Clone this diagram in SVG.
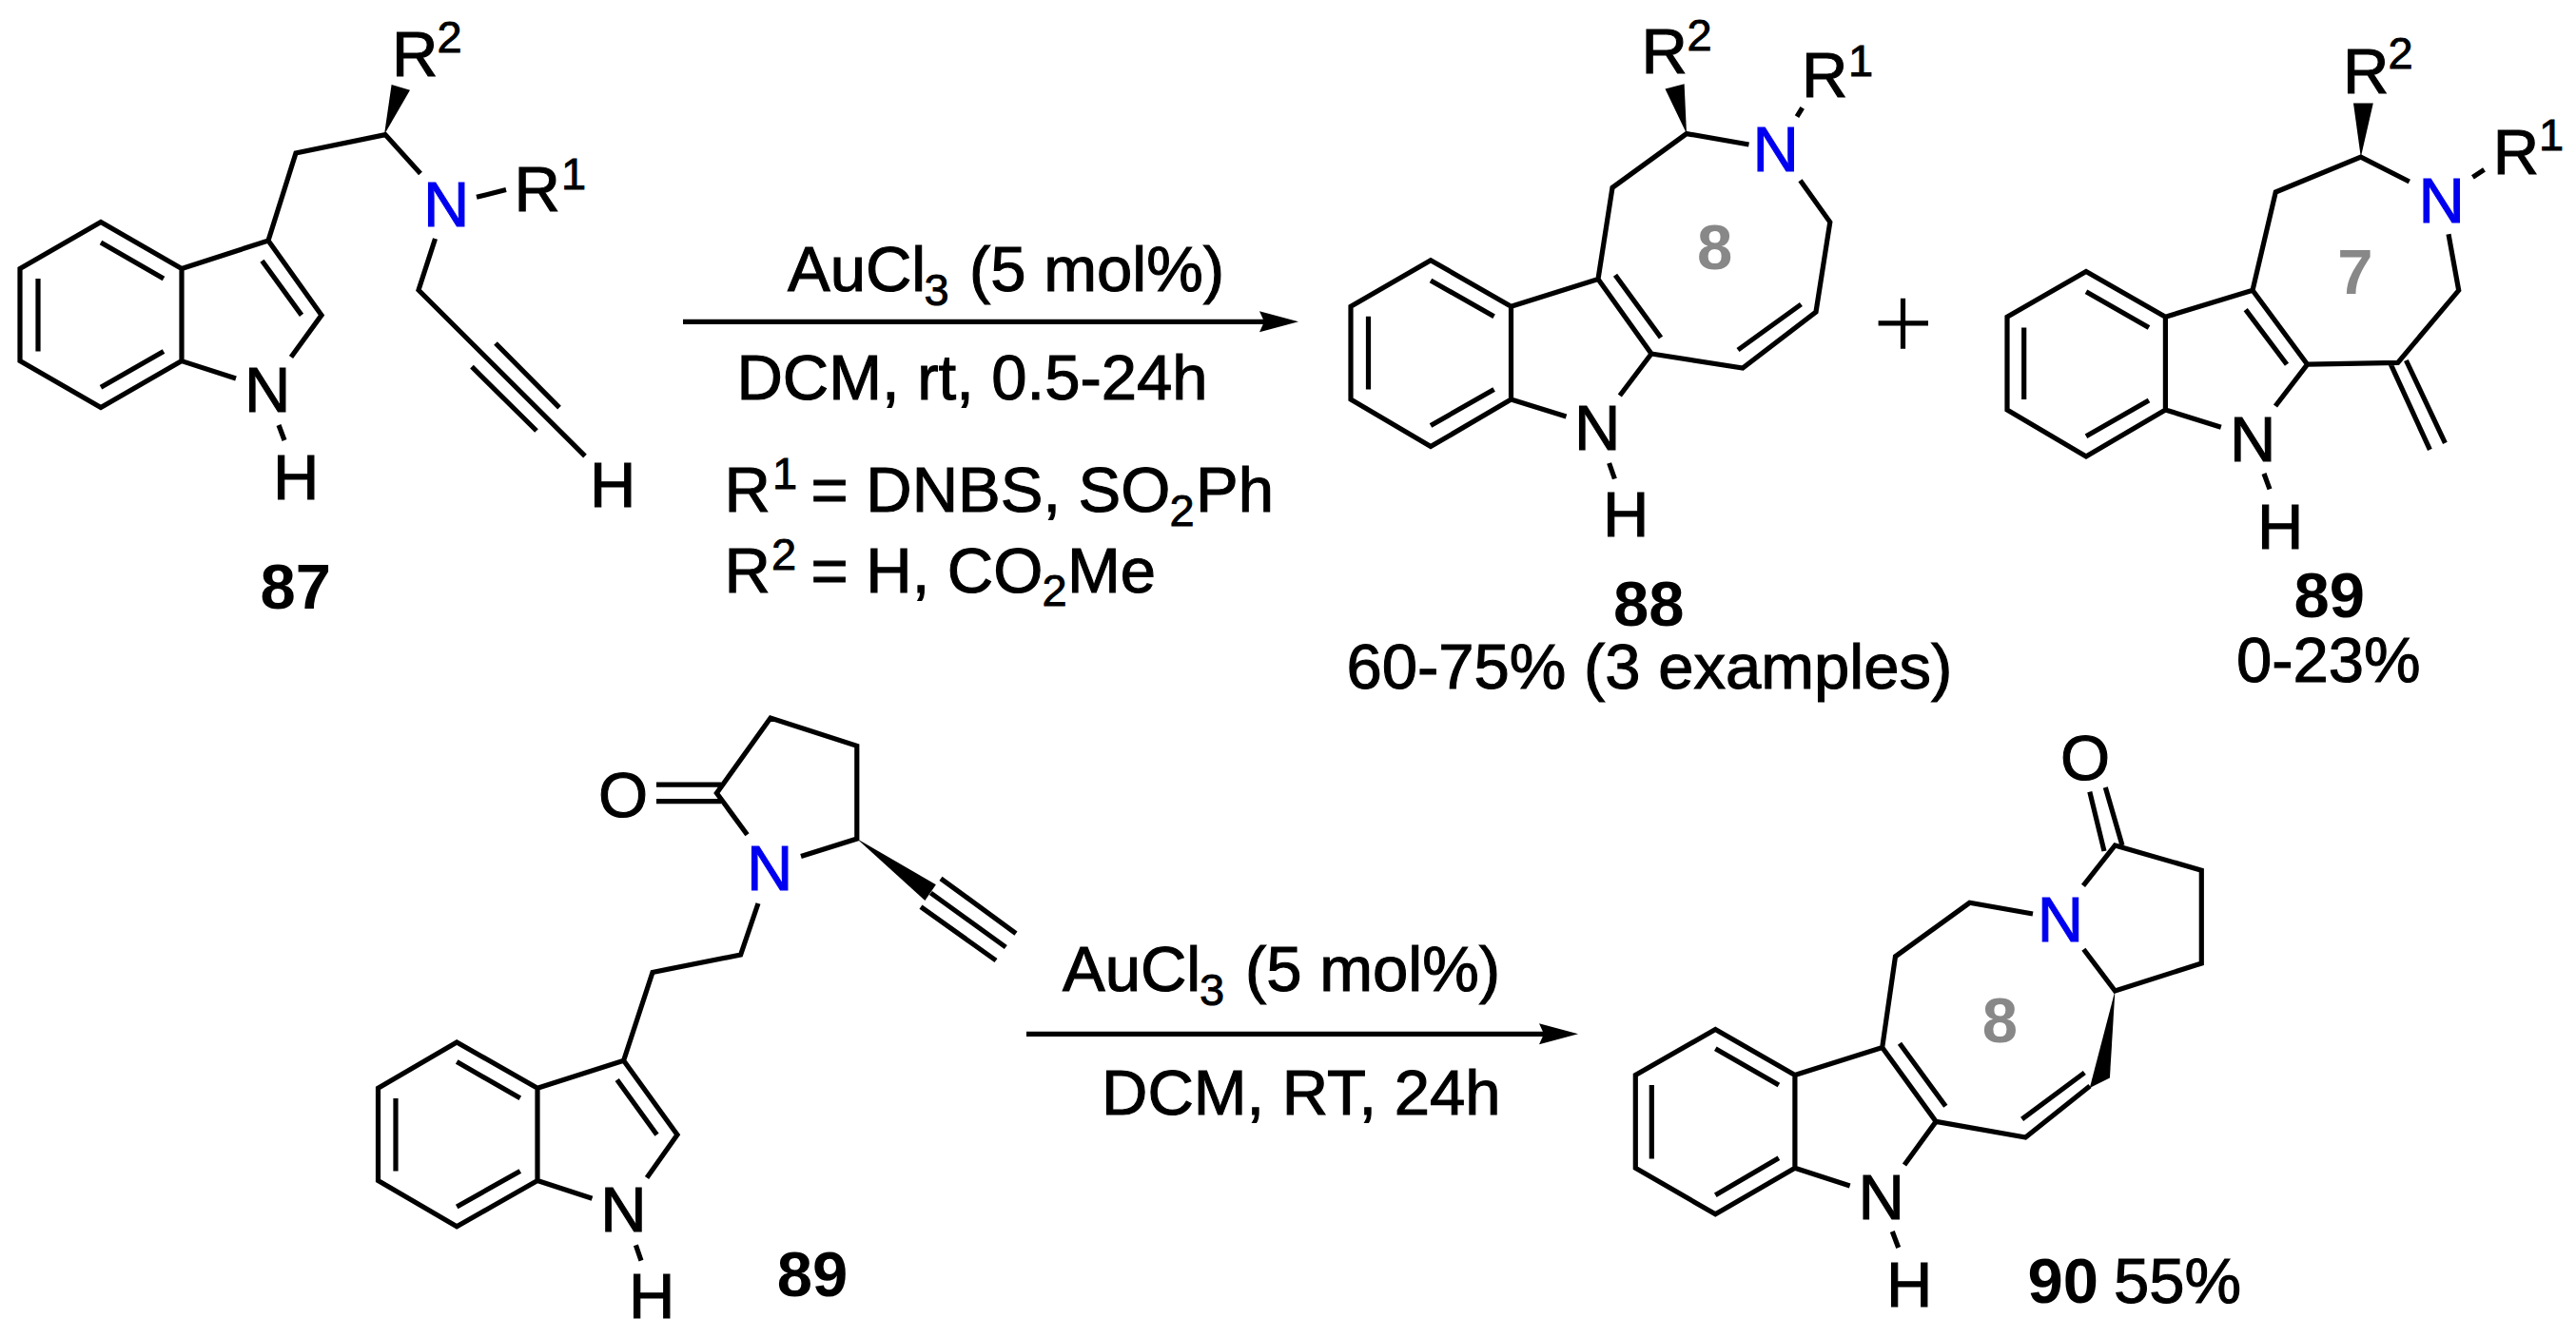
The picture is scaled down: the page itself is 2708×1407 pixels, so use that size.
<svg xmlns="http://www.w3.org/2000/svg" width="2708" height="1407" viewBox="0 0 2708 1407">
<style>
text{font-family:"Liberation Sans",Arial,sans-serif;font-size:67px;fill:#000;stroke:#000;stroke-width:1.1}
.s{font-size:47px;stroke-width:.9}
.b{font-weight:bold;stroke:none}
.n{fill:#0000f0;stroke:#0000f0}
.g{fill:#888;stroke:none;font-weight:bold}
path{fill:none;stroke:#000;stroke-width:5.2;stroke-linejoin:miter}
.w{fill:#000;stroke:none}
</style>
<defs><marker id="h" markerUnits="userSpaceOnUse" markerWidth="42" markerHeight="24" refX="11" refY="11" orient="auto"><polygon points="0,0 41,11 0,22 5,11" fill="#000"/></marker></defs>
<rect width="2708" height="1407" fill="#fff"/>
<g id="connectors">
<path marker-end="url(#h)" d="M718 338.3H1335"/>
<path marker-end="url(#h)" d="M1079 1087.3H1629"/>
</g>
<g id="mol-87">
<path d="M106 233.5L21 282.5V379.6L106 428.6L191 379.6V282.5ZM106 255L172 293M40 293V369.4M106 407.3L172 369.4M191 282.5L282 253L338 331.4L306 375.5M191 379.6L248 398M275.5 274.3L317 331.4M293 447L299 463M282 253L311 161L405 141.6L442 182.4M501 207.3L532 199.6M457.5 251L440 305L615 479.6M521 361L588 428.6M496 385.7L564 453"/>
<polygon class="w" points="404,141.6 411.6,89 431,94.7"/>
<text x="257" y="432.6">N</text><text x="287" y="524.5">H</text>
<text x="412" y="79.6">R</text><text class="s" x="459.5" y="55">2</text>
<text class="n" x="445" y="237.5">N</text>
<text x="540.5" y="222.4">R</text><text class="s" x="590" y="198.8">1</text>
<text x="620" y="532.7">H</text>
<text class="b" x="273.5" y="640">87</text>
</g>
<g id="conditions-1">
<text x="828" y="306">AuCl</text><text class="s" x="971.5" y="320.7">3</text><text x="1019" y="306">(5 mol%)</text>
<text x="774.4" y="420">DCM, rt, 0.5-24h</text>
<text x="761.5" y="538.3">R</text><text class="s" x="812" y="514">1</text><text x="852.5" y="538.3">= DNBS, SO</text><text class="s" x="1229.5" y="553.3">2</text><text x="1257" y="538.3">Ph</text>
<text x="761.5" y="622.7">R</text><text class="s" x="811" y="599.3">2</text><text x="852.5" y="622.7">= H, CO</text><text class="s" x="1095.5" y="636.7">2</text><text x="1122" y="622.7">Me</text>
</g>
<g id="mol-88">
<path d="M1504 273.7L1420 322.3V420L1504 469.6L1588.5 420V322.3ZM1504 295L1570.6 332.7M1438.5 332.7V409.6M1504 447.4L1570.6 409.6M1588.5 322.3L1680 293.5L1736 372L1702.8 416M1588.5 420L1646.5 438M1698 289.3L1746 355M1691.6 487L1697.4 503.5M1680 293.5L1695 197.3L1773 140.6L1838.5 152M1889 122.7L1894.7 113.3M1892.5 189.7L1923.8 233.6L1909 328L1832 387L1736 372M1893.4 320L1827 368"/>
<polygon class="w" points="1773,140.6 1750.5,93.4 1770.6,88.2"/>
<text x="1655" y="472.9">N</text><text x="1685" y="564">H</text>
<text x="1725.4" y="77">R</text><text class="s" x="1773.5" y="53">2</text>
<text class="n" x="1842.4" y="180.3">N</text>
<text x="1894" y="102.4">R</text><text class="s" x="1943" y="80">1</text>
<text class="g" x="1784" y="283">8</text>
<text class="b" x="1696" y="658">88</text>
<text x="1415.5" y="724">60-75% (3 examples)</text>
</g>
<g id="plus"><path d="M1974.6 339.8H2027M2000.5 313.8V366.7"/></g>
<g id="mol-89">
<path d="M2193 285.5L2110 333.2V430.9L2193 480L2276.4 430.9V333.2ZM2193 306.8L2259 344.5M2127.7 344.5V420M2193 458.7L2259 421M2276.4 333.2L2368 305.3L2425.6 383.2L2392 427M2276.4 430.9L2334.8 449.3M2360.7 325.6L2404 383.2M2380 498L2386 514.4M2368 305.3L2392.3 202L2481.8 165.2L2532.8 191M2599.4 186.4L2611.5 178.4M2574 246.3L2584.7 305.3L2520.7 381.3L2425.6 383.2M2513.3 383.2L2554.4 472.9M2529.4 379L2570.4 465.8"/>
<polygon class="w" points="2481.8,165.2 2474,108.5 2494.8,108.5"/>
<text x="2344" y="484.7">N</text><text x="2373" y="576.7">H</text>
<text x="2463" y="98">R</text><text class="s" x="2510.5" y="72">2</text>
<text class="n" x="2542.5" y="233.6">N</text>
<text x="2620.8" y="182.6">R</text><text class="s" x="2669" y="158">1</text>
<text class="g" x="2457.3" y="309">7</text>
<text class="b" x="2411.6" y="649">89</text>
<text x="2351" y="717.3">0-23%</text>
</g>
<g id="mol-89b">
<path d="M480.2 1096L397.5 1144.2V1241.5L480.2 1289.7L565 1241.5V1144.2ZM480.2 1116.6L546.8 1154.7M416 1155V1231.4M480.2 1269L546.8 1231.4M565 1144.2L655.6 1115.3L712 1193.3L680 1238.4M565 1241.5L622.5 1260.3M648.7 1135.4L690.5 1193.3M668.4 1309.4L674 1325.6M655.6 1115.3L686 1022.4L778.6 1004L797 950M785.5 877.8L753.4 834L810 755L900.8 784.4V882L842 900.5M690 825.2H758M690 842.7H758M978.4 939L1057.3 996M989 923.8L1068 981.6M968 953.6L1047 1010"/>
<polygon class="w" points="900.8,882 983.9,930.3 972.4,947"/>
<text x="631.3" y="1295.4">N</text><text x="661" y="1386">H</text>
<text class="n" x="785" y="935.6">N</text>
<text x="629" y="859.4">O</text>
<text class="b" x="816.7" y="1363">89</text>
</g>
<g id="conditions-2">
<text x="1117" y="1041.7">AuCl</text><text class="s" x="1261" y="1057">3</text><text x="1309" y="1041.7">(5 mol%)</text>
<text x="1158" y="1172.3">DCM, RT, 24h</text>
</g>
<g id="mol-90">
<path d="M1803.3 1082.4L1719.3 1130.5V1228.3L1803.3 1276.8L1886.9 1228.3V1130.5ZM1803.3 1102.8L1869.9 1141M1736.3 1141V1218.5M1803.3 1256.8L1869.9 1217.7M1886.9 1130.5L1978.7 1101.5L2035.2 1179.4L2002 1225M1886.9 1228.3L1944.7 1247M1997 1097.3L2045.3 1163.2M1989.3 1295L1995.7 1312M1978.7 1101.5L1992.5 1005.8L2070.5 949.3L2137 961M2190 931.4L2223.4 888.9L2314.3 915.2V1013L2223.4 1042L2190.4 998.2M2212 895L2196.8 832.7M2231 888.9L2213.3 828M2197 1142L2129.3 1196L2035.2 1179.4M2191.3 1128L2125.6 1176.8"/>
<polygon class="w" points="2223.4,1042 2217.9,1133.4 2196.8,1144"/>
<text x="1953.5" y="1281.5">N</text><text x="1983" y="1373.8">H</text>
<text class="n" x="2141.7" y="989.7">N</text>
<text x="2166" y="820">O</text>
<text class="g" x="2083.7" y="1096.4">8</text>
<text class="b" x="2131.5" y="1370.4">90</text><text x="2222" y="1370.4">55%</text>
</g>
</svg>
